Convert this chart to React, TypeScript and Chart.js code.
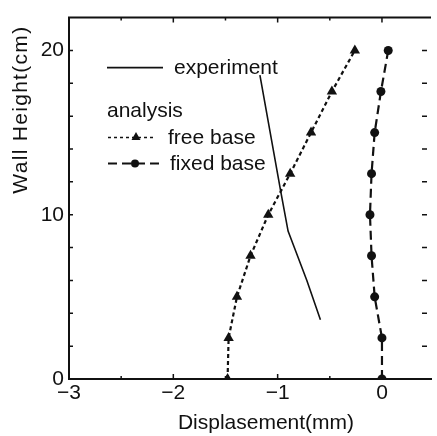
import React, { useEffect, useRef } from "react";
import { Chart, registerables } from "chart.js";

Chart.register(...registerables);

// Wall height (cm) at which the analysis results are reported
const analysisHeights = [0, 2.5, 5, 7.5, 10, 12.5, 15, 17.5, 20];
// Analysis: free base displacement (mm)
const freeBaseDisp = [-1.48, -1.47, -1.39, -1.26, -1.09, -0.88, -0.68, -0.48, -0.26];
// Analysis: fixed base displacement (mm)
const fixedBaseDisp = [0.0, 0.0, -0.07, -0.1, -0.115, -0.1, -0.07, -0.01, 0.06];
// Measured displacement profile
const experimentHeights = [18.5, 11.4, 9.0, 8.0, 6.0, 3.6];
const experimentDisp = [-1.17, -0.97, -0.9, -0.84, -0.72, -0.59];

// Axis labels and tick marks
const xTickLabels = [-3, -2, -1, 0];
const yTickLabels = [0, 10, 20];
const xTickMarks = [-2.5, -2, -1.5, -1, -0.5, 0];
const yTickMarks = [2, 4, 6, 8, 10, 12, 14, 16, 18, 20];

const xTitle = "Displasement(mm)";
const yTitle = "Wall Height(cm)";
const legendTitle = "analysis";
const seriesNames = ["experiment", "free base", "fixed base"];

const FONT = "'Liberation Sans', Arial, Helvetica, sans-serif";
const INK = "#111";

const fmt = (v: number) => (v < 0 ? "\u2212" + Math.abs(v) : String(v));

const toPoints = (xs: number[], ys: number[]) => xs.map((x, i) => ({ x, y: ys[i] }));

const decorations = {
  id: "decorations",
  afterDraw(chart: any) {
    const { ctx, chartArea } = chart;
    const xs = chart.scales.x;
    const ys = chart.scales.y;
    const { left, right, top, bottom } = chartArea;
    ctx.save();
    ctx.strokeStyle = INK;
    ctx.fillStyle = INK;

    // top frame line
    ctx.lineWidth = 2;
    ctx.beginPath();
    ctx.moveTo(left - 1, top);
    ctx.lineTo(right, top);
    ctx.stroke();

    // inward tick marks
    ctx.lineWidth = 1.5;
    ctx.beginPath();
    for (const v of xTickMarks) {
      const px = xs.getPixelForValue(v);
      const len = Number.isInteger(v) ? 5 : 3;
      ctx.moveTo(px, bottom);
      ctx.lineTo(px, bottom - len);
      ctx.moveTo(px, top);
      ctx.lineTo(px, top + len);
    }
    for (const v of yTickMarks) {
      const py = ys.getPixelForValue(v);
      ctx.moveTo(left, py);
      ctx.lineTo(left + 4, py);
      ctx.moveTo(right - 9, py);
      ctx.lineTo(right - 4, py);
    }
    ctx.stroke();

    // axis titles
    ctx.font = `21px ${FONT}`;
    ctx.textAlign = "center";
    ctx.textBaseline = "alphabetic";
    ctx.fillText(xTitle, left + 197, 429);
    ctx.save();
    ctx.translate(27, top + 92);
    ctx.rotate(-Math.PI / 2);
    (ctx as any).letterSpacing = "1.3px";
    ctx.fillText(yTitle, 0, 0);
    ctx.restore();

    // legend
    const lx = left + 38;
    ctx.textAlign = "left";
    ctx.font = `21px ${FONT}`;

    // experiment
    ctx.lineWidth = 1.6;
    ctx.setLineDash([]);
    ctx.beginPath();
    ctx.moveTo(lx, top + 50);
    ctx.lineTo(lx + 56, top + 50);
    ctx.stroke();
    ctx.fillText(seriesNames[0], lx + 67, top + 56);

    ctx.fillText(legendTitle, lx, top + 99);

    // free base
    ctx.lineWidth = 1.5;
    ctx.setLineDash([3, 3]);
    ctx.beginPath();
    ctx.moveTo(lx + 1, top + 120);
    ctx.lineTo(lx + 48, top + 120);
    ctx.stroke();
    ctx.setLineDash([]);
    ctx.beginPath();
    const tx = lx + 29;
    const ty = top + 119;
    ctx.moveTo(tx, ty - 4.5);
    ctx.lineTo(tx + 4.5, ty + 3.5);
    ctx.lineTo(tx - 4.5, ty + 3.5);
    ctx.closePath();
    ctx.fill();
    ctx.fillText(seriesNames[1], lx + 61, top + 126);

    // fixed base
    ctx.lineWidth = 2;
    ctx.setLineDash([9, 5]);
    ctx.beginPath();
    ctx.moveTo(lx + 1, top + 146);
    ctx.lineTo(lx + 57, top + 146);
    ctx.stroke();
    ctx.setLineDash([]);
    ctx.beginPath();
    ctx.arc(lx + 28, top + 146, 4, 0, Math.PI * 2);
    ctx.fill();
    ctx.fillText(seriesNames[2], lx + 63, top + 152);

    ctx.restore();
  },
};

export default function App() {
  const canvasRef = useRef<HTMLCanvasElement | null>(null);

  useEffect(() => {
    const canvas = canvasRef.current;
    if (!canvas) return;
    const chart = new Chart(canvas, {
      type: "scatter",
      data: {
        datasets: [
          {
            label: seriesNames[0],
            data: toPoints(experimentDisp, experimentHeights),
            showLine: true,
            borderColor: INK,
            borderWidth: 1.6,
            pointRadius: 0,
            tension: 0,
          },
          {
            label: seriesNames[1],
            data: toPoints(freeBaseDisp, analysisHeights),
            showLine: true,
            borderColor: INK,
            borderWidth: 2.2,
            borderDash: [4, 3],
            pointStyle: "triangle",
            pointRadius: 6,
            pointBackgroundColor: INK,
            pointBorderColor: INK,
            pointBorderWidth: 0,
          },
          {
            label: seriesNames[2],
            data: toPoints(fixedBaseDisp, analysisHeights),
            showLine: true,
            borderColor: INK,
            borderWidth: 2.2,
            borderDash: [9, 5],
            pointStyle: "circle",
            pointRadius: 4.5,
            pointBackgroundColor: INK,
            pointBorderColor: INK,
            pointBorderWidth: 0,
          },
        ],
      },
      options: {
        responsive: false,
        animation: false,
        devicePixelRatio: 1,
        layout: { padding: { top: 9, right: 0, left: 0, bottom: 0 } },
        plugins: {
          legend: { display: false },
          tooltip: { enabled: false },
        },
        scales: {
          x: {
            type: "linear",
            position: "bottom",
            min: -3,
            max: 0.47,
            grid: { display: false, drawTicks: false },
            border: { display: true, color: INK, width: 2 },
            ticks: {
              color: INK,
              font: { family: FONT, size: 21 },
              padding: 2,
              maxRotation: 0,
              callback: (v: any) => fmt(Number(v)),
            },
            afterBuildTicks: (s: any) => {
              s.ticks = xTickLabels.map((value) => ({ value }));
            },
            afterFit: (s: any) => {
              s.height = 57;
            },
          },
          y: {
            type: "linear",
            position: "left",
            min: 0,
            max: 22,
            grid: { display: false, drawTicks: false },
            border: { display: true, color: INK, width: 2 },
            ticks: {
              color: INK,
              font: { family: FONT, size: 21 },
              padding: 5,
              callback: (v: any) => fmt(Number(v)),
            },
            afterBuildTicks: (s: any) => {
              s.ticks = yTickLabels.map((value) => ({ value }));
            },
            afterFit: (s: any) => {
              s.width = 69;
            },
          },
        },
      },
      plugins: [decorations],
    });
    return () => chart.destroy();
  }, []);

  return (
    <div style={{ position: "fixed", left: 0, top: 0, width: 437, height: 436, background: "#fff" }}>
      <canvas ref={canvasRef} width={437} height={436} style={{ display: "block" }} />
    </div>
  );
}
